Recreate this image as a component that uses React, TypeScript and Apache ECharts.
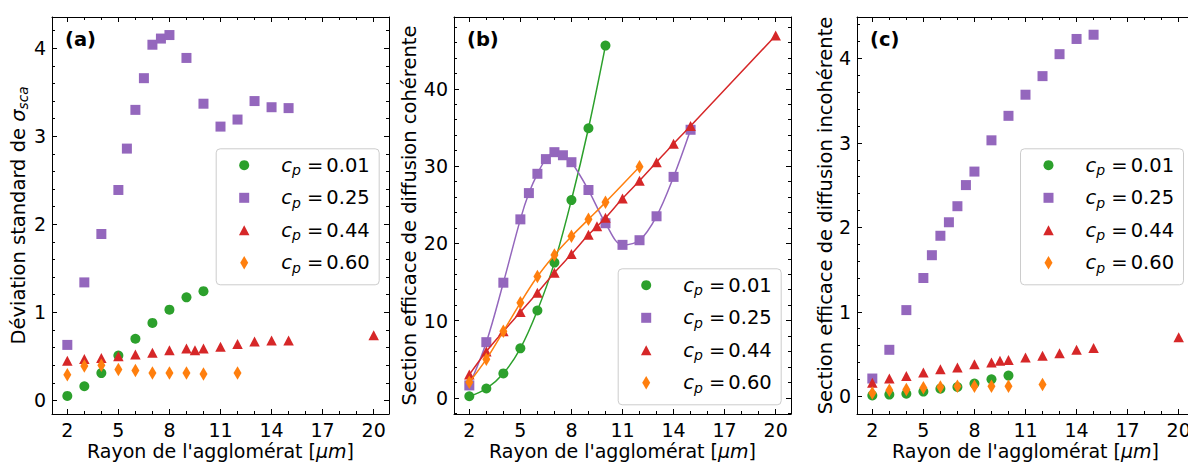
import React, { useEffect, useRef } from "react";
import * as echarts from "echarts";

// ---------- data ----------
const xCp01 = [2, 3, 4, 5, 6, 7, 8, 9, 10];
const xCp25 = [2, 3, 4, 5, 5.5, 6, 6.5, 7, 7.5, 8, 9, 10, 11, 12, 13, 14, 15];
const xCp44 = [2, 3, 4, 5, 6, 7, 8, 9, 9.5, 10, 11, 12, 13, 14, 15, 20];
const xCp60 = [2, 3, 4, 5, 6, 7, 8, 9, 10, 12];

// (a) standard deviation of sigma_sca
const devCp01 = [0.05, 0.16, 0.31, 0.51, 0.7, 0.88, 1.03, 1.17, 1.24];
const devCp25 = [0.63, 1.34, 1.89, 2.39, 2.86, 3.3, 3.66, 4.04, 4.11, 4.15, 3.89, 3.37, 3.11, 3.19, 3.4, 3.33, 3.32];
const devCp44 = [0.45, 0.47, 0.48, 0.5, 0.52, 0.54, 0.57, 0.59, 0.57, 0.59, 0.61, 0.64, 0.67, 0.68, 0.68, 0.74];
const devCp60 = [0.29, 0.39, 0.4, 0.35, 0.34, 0.31, 0.31, 0.31, 0.3, 0.31];

// (b) coherent scattering cross-section
const cohCp01 = [0.2, 1.2, 3.15, 6.4, 11.3, 17.5, 25.6, 34.9, 45.6];
const cohCp25 = [1.6, 7.2, 14.9, 23.1, 26.5, 29.0, 30.9, 31.8, 31.4, 30.5, 26.9, 22.6, 19.8, 20.4, 23.5, 28.6, 34.7];
const cohCp44 = [3.0, 6.0, 8.6, 11.1, 13.6, 16.2, 18.6, 21.1, 22.2, 23.3, 25.8, 28.1, 30.5, 32.9, 35.2, 46.9];
const cohCp60 = [2.0, 5.0, 8.6, 12.3, 15.7, 18.5, 20.9, 23.1, 25.3, 29.9];

// (c) incoherent scattering cross-section
const incCp01 = [0.01, 0.02, 0.03, 0.055, 0.09, 0.11, 0.15, 0.2, 0.245];
const incCp25 = [0.21, 0.55, 1.02, 1.4, 1.67, 1.9, 2.06, 2.25, 2.5, 2.66, 3.03, 3.32, 3.57, 3.79, 4.05, 4.23, 4.28];
const incCp44 = [0.16, 0.21, 0.24, 0.28, 0.32, 0.34, 0.38, 0.4, 0.42, 0.43, 0.46, 0.48, 0.51, 0.55, 0.57, 0.7];
const incCp60 = [0.04, 0.07, 0.08, 0.1, 0.11, 0.12, 0.12, 0.12, 0.12, 0.14];

const cpLabels = ["0.01", "0.25", "0.44", "0.60"];
const panelTags = ["(a)", "(b)", "(c)"];
const xMajorTicks = [2, 5, 8, 11, 14, 17, 20];
const yMajorA = [0, 1, 2, 3, 4];
const yMajorB = [0, 10, 20, 30, 40];
const yMajorC = [0, 1, 2, 3, 4];

// ---------- style ----------
const FONT = "DejaVu Sans";
const COLORS = ["#2ca02c", "#9467bd", "#d62728", "#ff7f0e"];
const SYMBOLS = ["circle", "rect", "triangle", "diamond"];
const SIZES: any[] = [10, 10, [10.5, 10], [8, 13.5]];
const FS = 19.5;
const XNAME_FS = 19;
const TICK_FS = 19;

const range = (a: number, b: number, step: number) => {
  const out: number[] = [];
  for (let v = a; v <= b + 1e-9; v += step) out.push(Math.round(v * 1000) / 1000);
  return out;
};
const xMinorTicks = range(2, 20, 1);

const grids = [
  { left: 52, top: 17, width: 337, height: 397 },
  { left: 454, top: 17, width: 337, height: 397 },
  { left: 857, top: 17, width: 337, height: 397 },
];

const yRanges = [
  { min: -0.155, max: 4.355, major: yMajorA, minor: range(0, 4.2, 0.2) },
  { min: -2.1, max: 49.3, major: yMajorB, minor: range(-2, 48, 2) },
  { min: -0.21, max: 4.49, major: yMajorC, minor: range(0, 4.4, 0.2) },
];

const yNames = [
  "Déviation standard de {s|σ}{b|sca}",
  "Section efficace de diffusion cohérente",
  "Section efficace de diffusion incohérente",
];
const yNameGaps = [18, 28, 22];

const axisLineStyle = { color: "#000", width: 1 };

function makeXAxes(gi: number) {
  const base: any = {
    type: "value",
    gridIndex: gi,
    min: 1.1,
    max: 20.9,
    splitLine: { show: false },
  };
  const major = { inside: true, length: 5, customValues: xMajorTicks, lineStyle: axisLineStyle };
  const minor = { inside: true, length: 3, customValues: xMinorTicks, lineStyle: axisLineStyle };
  return [
    {
      ...base,
      position: "bottom",
      axisLine: { show: true, onZero: false, lineStyle: axisLineStyle },
      axisTick: major,
      axisLabel: { customValues: xMajorTicks, fontSize: TICK_FS, fontFamily: FONT, color: "#000", margin: 6 },
      name: "Rayon de l'agglomérat [{i|μm}]",
      nameLocation: "middle",
      nameGap: 27,
      nameMoveOverlap: false,
      nameTextStyle: {
        fontSize: XNAME_FS,
        fontFamily: FONT,
        color: "#000",
        rich: { i: { fontStyle: "italic", fontSize: XNAME_FS, fontFamily: FONT, color: "#000" } },
      },
    },
    {
      ...base,
      position: "top",
      axisLine: { show: true, onZero: false, lineStyle: axisLineStyle },
      axisTick: major,
      axisLabel: { show: false },
    },
    {
      ...base,
      position: "bottom",
      axisLine: { show: false, onZero: false },
      axisTick: minor,
      axisLabel: { show: false },
    },
    {
      ...base,
      position: "top",
      axisLine: { show: false, onZero: false },
      axisTick: minor,
      axisLabel: { show: false },
    },
  ];
}

function makeYAxes(gi: number) {
  const r = yRanges[gi];
  const base: any = {
    type: "value",
    gridIndex: gi,
    min: r.min,
    max: r.max,
    splitLine: { show: false },
  };
  const major = { inside: true, length: 5, customValues: r.major, lineStyle: axisLineStyle };
  const minor = { inside: true, length: 3, customValues: r.minor, lineStyle: axisLineStyle };
  return [
    {
      ...base,
      position: "left",
      axisLine: { show: true, onZero: false, lineStyle: axisLineStyle },
      axisTick: major,
      axisLabel: { customValues: r.major, fontSize: TICK_FS, fontFamily: FONT, color: "#000", margin: 6 },
      name: yNames[gi],
      nameLocation: "middle",
      nameGap: yNameGaps[gi],
      nameRotate: 90,
      nameTextStyle: {
        fontSize: FS,
        fontFamily: FONT,
        color: "#000",
        rich: {
          s: { fontStyle: "italic", fontSize: FS, fontFamily: FONT, color: "#000" },
          b: { fontStyle: "italic", fontSize: 13.6, fontFamily: FONT, color: "#000", padding: [9, 0, 0, 0] },
        },
      },
    },
    {
      ...base,
      position: "right",
      axisLine: { show: true, onZero: false, lineStyle: axisLineStyle },
      axisTick: major,
      axisLabel: { show: false },
    },
    {
      ...base,
      position: "left",
      axisLine: { show: false, onZero: false },
      axisTick: minor,
      axisLabel: { show: false },
    },
    {
      ...base,
      position: "right",
      axisLine: { show: false, onZero: false },
      axisTick: minor,
      axisLabel: { show: false },
    },
  ];
}

const xsList = [xCp01, xCp25, xCp44, xCp60];
const panelData = [
  [devCp01, devCp25, devCp44, devCp60],
  [cohCp01, cohCp25, cohCp44, cohCp60],
  [incCp01, incCp25, incCp44, incCp60],
];

function makeSeries() {
  const series: any[] = [];
  panelData.forEach((sets, gi) => {
    sets.forEach((ys, si) => {
      const data = xsList[si].map((x, i) => [x, ys[i]]);
      const common = {
        name: "cp = " + cpLabels[si],
        xAxisIndex: gi * 4,
        yAxisIndex: gi * 4,
        data,
        symbol: SYMBOLS[si],
        symbolSize: SIZES[si],
        itemStyle: { color: COLORS[si], opacity: 1 },
        z: 2 + si,
      };
      if (gi === 1) {
        series.push({
          ...common,
          type: "line",
          showSymbol: true,
          smooth: 0.35,
          lineStyle: { color: COLORS[si], width: 1.5 },
        });
      } else {
        series.push({ ...common, type: "scatter" });
      }
    });
  });
  return series;
}

const legendRich = {
  c: { fontStyle: "italic", fontSize: FS, fontFamily: FONT, fill: "#000", color: "#000" },
  p: { fontStyle: "italic", fontSize: 14, fontFamily: FONT, fill: "#000", color: "#000", padding: [10, 0, 0, 0] },
  n: { fontSize: FS, fontFamily: FONT, fill: "#000", color: "#000" },
  v: { fontSize: FS, fontFamily: FONT, fill: "#000", color: "#000", padding: [0, 0, 0, 3] },
};

function legendGraphic(left: number, top: number) {
  const W = 163;
  const H = 136;
  const rows = [16.4, 49, 81.4, 114];
  const mx = 28;
  const children: any[] = [
    {
      type: "rect",
      shape: { x: 0, y: 0, width: W, height: H, r: 4 },
      style: { fill: "rgba(255,255,255,0.8)", stroke: "#cccccc", lineWidth: 1 },
    },
    { type: "circle", shape: { cx: mx, cy: rows[0], r: 5 }, style: { fill: COLORS[0] } },
    { type: "rect", shape: { x: mx - 5, y: rows[1] - 5, width: 10, height: 10 }, style: { fill: COLORS[1] } },
    {
      type: "polygon",
      shape: { points: [[mx, rows[2] - 5], [mx + 5.25, rows[2] + 5], [mx - 5.25, rows[2] + 5]] },
      style: { fill: COLORS[2] },
    },
    {
      type: "polygon",
      shape: { points: [[mx, rows[3] - 6.75], [mx + 4, rows[3]], [mx, rows[3] + 6.75], [mx - 4, rows[3]]] },
      style: { fill: COLORS[3] },
    },
  ];
  cpLabels.forEach((lab, i) => {
    children.push({
      type: "text",
      x: 65,
      y: rows[i],
      style: {
        text: "{c|c}{p|p}{n| =}{v|" + lab + "}",
        rich: legendRich,
        fontSize: FS,
        fontFamily: FONT,
        fill: "#000",
        verticalAlign: "middle",
        textVerticalAlign: "middle",
        align: "left",
      },
    });
  });
  return { type: "group", left, top, children };
}

export default function App() {
  const ref = useRef<HTMLDivElement>(null);
  useEffect(() => {
    if (!ref.current) return;
    const chart = echarts.init(ref.current, undefined, { renderer: "svg" });
    const xAxis: any[] = [];
    const yAxis: any[] = [];
    [0, 1, 2].forEach((gi) => {
      xAxis.push(...makeXAxes(gi));
      yAxis.push(...makeYAxes(gi));
    });
    chart.setOption({
      animation: false,
      backgroundColor: "#ffffff",
      textStyle: { fontFamily: FONT },
      grid: grids.map((g) => ({ ...g, containLabel: false, outerBoundsMode: "none" })),
      title: panelTags.map((t, gi) => ({
        text: t,
        left: grids[gi].left + 13,
        top: 29,
        padding: 0,
        textStyle: { fontWeight: "bold", fontSize: FS, fontFamily: FONT, color: "#000" },
      })),
      xAxis,
      yAxis,
      series: makeSeries(),
      graphic: [legendGraphic(215.7, 148.3), legendGraphic(617.7, 268.3), legendGraphic(1020, 148.3)],
    });
    return () => chart.dispose();
  }, []);
  return (
    <div
      style={{
        position: "fixed",
        left: 0,
        top: 0,
        width: 1188,
        height: 462,
        overflow: "hidden",
        background: "#fff",
      }}
    >
      <div ref={ref} style={{ width: 1200, height: 462 }} />
    </div>
  );
}
